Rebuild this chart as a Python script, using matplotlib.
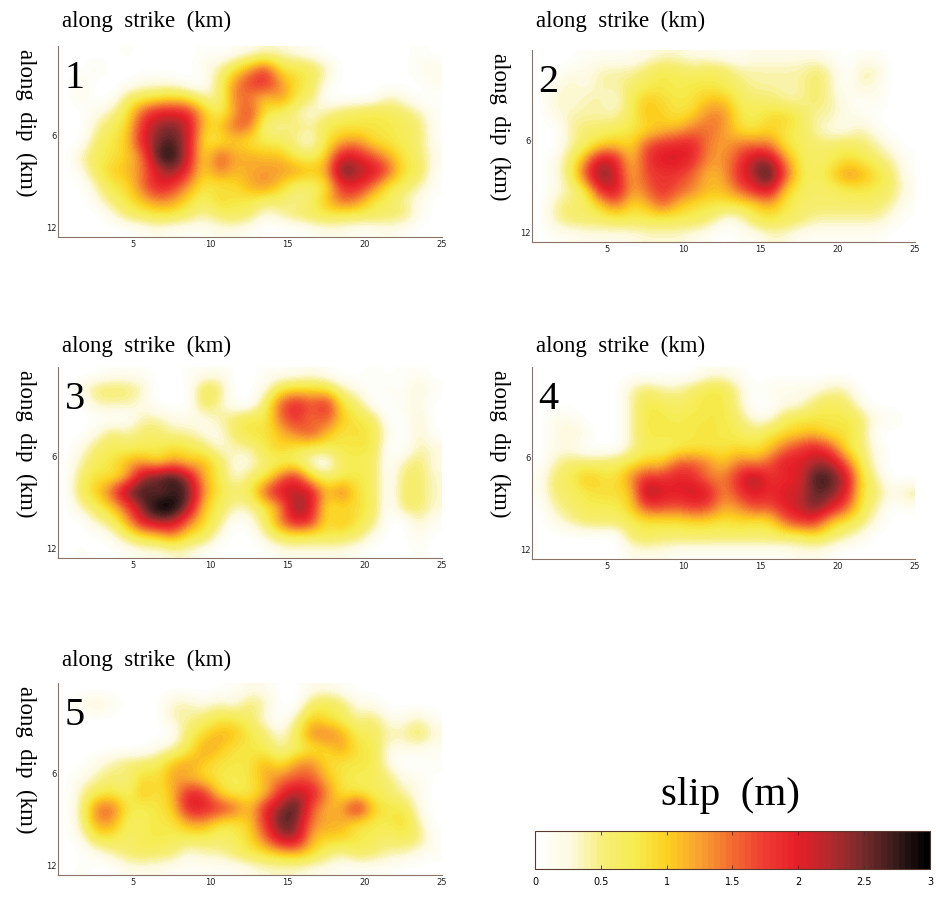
import matplotlib
matplotlib.use('Agg')
import matplotlib.pyplot as plt
import numpy as np
from matplotlib.cm import ScalarMappable
from matplotlib.colors import LinearSegmentedColormap, Normalize

# slip, in 0.1 m, one row per km of dip, one column per km of strike
slip_1 = [
    [0, 0, 0, 0, 1, 0, 0, 0, 0, 1, 0, 1, 2, 3, 3, 2, 1, 0, 0, 0, 0, 0, 0, 1, 0],
    [0, 0, 2, 0, 0, 0, 0, 0, 0, 2, 4, 8, 12, 17, 8, 8, 7, 4, 0, 0, 0, 0, 0, 2, 2],
    [0, 2, 0, 0, 0, 2, 2, 2, 0, 0, 6, 13, 18, 20, 13, 9, 7, 2, 0, 0, 0, 0, 0, 0, 2],
    [0, 2, 0, 0, 6, 7, 8, 9, 8, 4, 4, 15, 14, 10, 14, 8, 6, 0, 0, 0, 0, 4, 2, 0, 0],
    [0, 0, 2, 4, 8, 16, 20, 20, 19, 11, 6, 12, 18, 8, 7, 4, 2, 4, 6, 7, 8, 7, 6, 4, 1],
    [0, 0, 4, 7, 9, 19, 24, 25, 22, 10, 10, 16, 15, 4, 4, 6, 4, 8, 8, 8, 8, 8, 7, 6, 1],
    [0, 0, 6, 8, 10, 20, 25, 27, 21, 8, 8, 10, 8, 7, 7, 4, 2, 8, 12, 13, 9, 8, 7, 6, 1],
    [0, 4, 7, 8, 10, 14, 28, 29, 21, 8, 17, 12, 12, 11, 11, 7, 6, 10, 21, 20, 16, 12, 8, 6, 2],
    [0, 2, 7, 10, 11, 14, 21, 25, 18, 9, 15, 11, 12, 13, 13, 13, 11, 12, 28, 23, 22, 17, 8, 8, 1],
    [0, 0, 4, 8, 9, 15, 21, 18, 13, 8, 8, 9, 12, 14, 10, 6, 6, 8, 19, 20, 15, 8, 7, 4, 1],
    [0, 0, 2, 6, 8, 11, 14, 13, 9, 6, 10, 8, 8, 6, 6, 4, 6, 11, 16, 14, 8, 7, 4, 2, 0],
    [0, 0, 0, 2, 6, 7, 8, 8, 6, 4, 6, 7, 6, 2, 4, 6, 7, 8, 7, 7, 7, 6, 6, 2, 0],
    [0, 0, 0, 0, 0, 1, 2, 1, 1, 1, 2, 2, 1, 0, 0, 0, 1, 2, 2, 1, 1, 2, 1, 0, 0],
]
slip_2 = [
    [0, 0, 0, 1, 1, 1, 1, 2, 3, 3, 2, 2, 1, 1, 2, 2, 2, 2, 2, 1, 0, 1, 1, 0, 0],
    [0, 0, 2, 2, 4, 4, 4, 6, 8, 7, 6, 7, 7, 4, 4, 4, 4, 4, 6, 4, 0, 4, 4, 0, 0],
    [0, 2, 4, 2, 4, 4, 6, 7, 8, 7, 8, 8, 7, 6, 4, 4, 4, 4, 6, 4, 0, 4, 2, 0, 0],
    [0, 4, 2, 4, 4, 2, 7, 11, 9, 8, 8, 11, 11, 7, 6, 6, 4, 4, 6, 4, 2, 0, 2, 0, 0],
    [0, 2, 4, 4, 4, 4, 7, 11, 10, 8, 10, 14, 14, 8, 7, 9, 10, 7, 4, 4, 2, 2, 0, 0, 0],
    [0, 0, 4, 6, 6, 7, 8, 9, 11, 12, 15, 15, 13, 9, 8, 10, 8, 7, 4, 2, 2, 4, 2, 0, 0],
    [0, 0, 4, 6, 10, 11, 9, 17, 19, 20, 20, 14, 12, 15, 15, 15, 8, 7, 6, 6, 7, 6, 4, 2, 0],
    [0, 2, 6, 13, 23, 20, 10, 18, 21, 21, 19, 13, 13, 17, 24, 24, 14, 7, 6, 7, 9, 8, 6, 4, 1],
    [0, 2, 6, 17, 26, 21, 11, 17, 18, 18, 15, 11, 12, 19, 23, 29, 17, 8, 6, 9, 14, 12, 9, 6, 1],
    [0, 2, 4, 7, 20, 22, 12, 15, 19, 16, 14, 11, 11, 15, 19, 22, 10, 7, 6, 6, 7, 8, 7, 6, 2],
    [0, 4, 6, 6, 10, 15, 9, 11, 16, 11, 9, 8, 8, 8, 9, 12, 8, 6, 6, 6, 6, 6, 6, 4, 1],
    [0, 4, 6, 6, 6, 7, 7, 7, 7, 7, 7, 6, 2, 2, 7, 8, 7, 6, 4, 4, 4, 4, 4, 2, 0],
    [0, 1, 1, 2, 2, 2, 2, 3, 3, 3, 2, 1, 0, 1, 1, 3, 3, 1, 1, 1, 1, 1, 1, 0, 0],
]
slip_3 = [
    [0, 0, 0, 1, 1, 1, 0, 0, 1, 1, 2, 0, 0, 1, 1, 1, 2, 1, 0, 0, 1, 0, 1, 1, 0],
    [0, 2, 6, 6, 6, 4, 0, 0, 0, 8, 6, 0, 0, 2, 8, 9, 9, 8, 4, 2, 0, 2, 0, 4, 1],
    [0, 0, 4, 4, 4, 2, 0, 0, 0, 7, 4, 0, 0, 6, 16, 20, 16, 20, 8, 6, 0, 0, 2, 2, 0],
    [0, 0, 0, 0, 0, 4, 4, 2, 2, 2, 4, 6, 8, 7, 15, 19, 14, 17, 10, 8, 7, 0, 0, 4, 0],
    [0, 0, 2, 6, 4, 6, 6, 4, 4, 2, 2, 6, 9, 8, 11, 14, 17, 11, 8, 9, 8, 2, 0, 4, 0],
    [0, 2, 6, 7, 6, 7, 7, 9, 8, 6, 2, 4, 4, 8, 10, 8, 7, 7, 8, 8, 8, 0, 0, 4, 3],
    [0, 4, 7, 8, 12, 13, 9, 13, 10, 12, 7, 2, 2, 6, 6, 6, 2, 0, 7, 7, 7, 0, 4, 6, 2],
    [0, 6, 9, 8, 11, 24, 27, 29, 23, 11, 8, 2, 6, 7, 15, 20, 8, 6, 7, 8, 7, 0, 6, 6, 3],
    [0, 7, 10, 16, 26, 28, 24, 27, 27, 13, 8, 6, 7, 17, 22, 22, 22, 10, 16, 8, 7, 0, 6, 6, 3],
    [0, 4, 7, 10, 16, 25, 31, 31, 24, 10, 7, 4, 4, 8, 12, 26, 20, 8, 9, 9, 7, 0, 6, 6, 3],
    [0, 0, 4, 6, 12, 21, 24, 23, 15, 9, 6, 0, 2, 6, 15, 21, 19, 8, 12, 8, 6, 0, 0, 4, 1],
    [0, 0, 0, 2, 6, 9, 10, 14, 8, 8, 2, 0, 0, 4, 7, 8, 7, 8, 7, 6, 2, 0, 0, 2, 0],
    [0, 1, 0, 0, 1, 2, 2, 3, 3, 1, 0, 0, 0, 0, 2, 2, 2, 2, 2, 1, 0, 0, 0, 1, 0],
]
slip_4 = [
    [0, 0, 0, 0, 0, 0, 0, 0, 0, 0, 0, 2, 2, 1, 0, 0, 0, 0, 0, 0, 0, 0, 0, 0, 0],
    [0, 0, 0, 0, 0, 0, 4, 6, 4, 4, 6, 8, 8, 4, 0, 2, 2, 2, 2, 4, 4, 0, 0, 0, 0],
    [0, 0, 0, 0, 0, 0, 4, 8, 7, 6, 7, 8, 8, 4, 0, 0, 2, 2, 6, 7, 6, 2, 0, 0, 0],
    [0, 2, 2, 0, 0, 0, 4, 8, 8, 7, 8, 8, 8, 6, 2, 2, 7, 8, 8, 8, 8, 6, 2, 2, 0],
    [0, 2, 4, 2, 0, 0, 4, 8, 8, 8, 8, 8, 8, 7, 6, 8, 9, 10, 11, 8, 9, 6, 0, 0, 0],
    [0, 2, 2, 0, 0, 0, 4, 7, 6, 7, 8, 8, 8, 9, 8, 10, 15, 18, 20, 17, 8, 6, 2, 0, 0],
    [0, 4, 6, 6, 6, 7, 8, 10, 10, 16, 16, 14, 10, 15, 13, 16, 21, 20, 23, 23, 16, 7, 2, 0, 0],
    [1, 6, 7, 11, 9, 8, 14, 19, 18, 20, 19, 14, 14, 19, 25, 18, 19, 20, 28, 27, 22, 9, 4, 0, 0],
    [1, 6, 6, 8, 9, 9, 10, 25, 21, 20, 22, 21, 13, 18, 21, 19, 21, 21, 26, 25, 21, 8, 6, 2, 5],
    [0, 4, 6, 7, 7, 7, 10, 17, 17, 16, 18, 17, 12, 13, 17, 16, 20, 22, 26, 21, 16, 8, 4, 0, 1],
    [0, 2, 4, 6, 6, 6, 7, 8, 8, 8, 9, 9, 8, 9, 8, 8, 15, 18, 18, 10, 8, 6, 2, 0, 0],
    [0, 0, 0, 0, 0, 0, 6, 7, 6, 6, 6, 6, 6, 6, 6, 6, 6, 6, 8, 6, 4, 2, 0, 0, 0],
    [0, 0, 0, 0, 0, 0, 2, 2, 2, 1, 1, 1, 1, 1, 1, 1, 1, 2, 2, 1, 0, 0, 0, 0, 0],
]
slip_5 = [
    [0, 0, 0, 0, 0, 0, 0, 0, 0, 0, 0, 1, 2, 2, 0, 0, 2, 2, 1, 0, 0, 0, 0, 0, 0],
    [0, 2, 4, 2, 0, 0, 0, 4, 4, 2, 4, 2, 6, 4, 0, 0, 6, 8, 6, 2, 2, 0, 0, 0, 0],
    [0, 0, 0, 0, 0, 0, 0, 4, 4, 6, 8, 8, 6, 2, 0, 4, 11, 8, 7, 4, 6, 2, 2, 4, 1],
    [0, 0, 0, 0, 0, 0, 0, 0, 7, 9, 12, 11, 8, 6, 2, 7, 14, 15, 12, 7, 7, 4, 4, 7, 3],
    [0, 0, 0, 0, 0, 0, 2, 4, 7, 13, 11, 8, 8, 7, 4, 6, 8, 9, 13, 8, 8, 2, 2, 2, 1],
    [0, 0, 2, 4, 6, 6, 7, 11, 13, 10, 8, 8, 8, 12, 8, 13, 14, 9, 8, 8, 8, 2, 0, 0, 1],
    [0, 2, 4, 6, 4, 10, 8, 13, 11, 9, 8, 7, 8, 12, 14, 16, 16, 11, 8, 7, 7, 6, 2, 2, 0],
    [0, 4, 7, 8, 6, 11, 8, 11, 20, 19, 9, 7, 8, 10, 19, 23, 21, 14, 8, 8, 7, 6, 4, 2, 0],
    [0, 4, 15, 16, 8, 7, 8, 10, 21, 20, 19, 16, 10, 20, 24, 28, 16, 11, 12, 22, 10, 8, 8, 2, 0],
    [0, 4, 13, 13, 6, 7, 8, 8, 12, 13, 8, 8, 10, 18, 27, 25, 14, 12, 12, 8, 8, 7, 10, 4, 0],
    [0, 2, 8, 8, 6, 7, 8, 7, 7, 7, 6, 7, 9, 15, 23, 24, 11, 10, 10, 8, 7, 6, 7, 6, 1],
    [0, 0, 2, 4, 6, 7, 6, 6, 2, 4, 4, 6, 8, 9, 11, 12, 10, 6, 4, 7, 6, 4, 4, 2, 1],
    [0, 1, 0, 0, 2, 2, 2, 1, 1, 1, 1, 1, 2, 3, 3, 3, 2, 2, 1, 1, 1, 1, 0, 0, 0],
]

x_ticks = [5, 10, 15, 20, 25]
y_ticks = [6, 12]
cbar_ticks = [0, 0.5, 1, 1.5, 2, 2.5, 3]
cbar_labels = ['0', '0.5', '1', '1.5', '2', '2.5', '3']

W, H = 937, 900
SERIF = 'Liberation Serif'
EDGE = '#8a7468'

# nom, valeurs, cadre en pixels (left, top, right, bottom), ligne de base du titre
panels = [
    ('1', slip_1, (58.5, 46, 442, 237), 27),
    ('2', slip_2, (532.5, 50, 915, 242), 27),
    ('3', slip_3, (58.5, 367, 442, 558), 352),
    ('4', slip_4, (532.5, 367, 915, 559), 352),
    ('5', slip_5, (58.5, 683, 442, 875), 666),
]

cmap = LinearSegmentedColormap.from_list('slip', [
    (0.0, '#ffffff'), (0.0833, '#fdfae0'), (0.1667, '#f7ee78'), (0.25, '#f6ec4e'),
    (0.3333, '#fdd01f'), (0.4167, '#f8a030'), (0.5, '#f26c30'), (0.5833, '#ef3b33'),
    (0.6667, '#e51f28'), (0.75, '#b42a2d'), (0.8333, '#772b2c'), (0.9167, '#3a1c1c'),
    (1.0, '#000000')], N=64)
norm = Normalize(0, 3)


def px_axes(fig, left, top, right, bottom):
    return fig.add_axes([left / W, 1 - bottom / H, (right - left) / W, (bottom - top) / H])


fig = plt.figure(figsize=(W / 100, H / 100), dpi=100)

for name, slip, box, title_y in panels:
    ax = px_axes(fig, *box)
    ax.imshow(np.array(slip) / 10, cmap=cmap, norm=norm, aspect='auto',
              interpolation='bicubic', extent=(0.16, 25.05, 12.6, 0.13))
    ax.set_xlim(0.16, 25.05)
    ax.set_ylim(12.6, 0.13)
    ax.set_xticks(x_ticks)
    ax.set_yticks(y_ticks)
    ax.tick_params(length=0, labelsize=6, labelcolor='#222222')
    ax.tick_params(axis='x', pad=2.5)
    ax.tick_params(axis='y', pad=1.5)
    ax.spines['top'].set_visible(False)
    ax.spines['right'].set_visible(False)
    ax.spines['left'].set_color(EDGE)
    ax.spines['bottom'].set_color(EDGE)
    left, top, right, bottom = box
    fig.text((left + 3.5) / W, 1 - title_y / H, 'along  strike  (km)', family=SERIF,
             fontsize=16.5, va='baseline', ha='left')
    fig.text((left - 33) / W, 1 - (top + 3) / H, 'along  dip  (km)', family=SERIF,
             fontsize=16.5, rotation=270, va='top', ha='center')
    fig.text((left + 6) / W, 1 - (top + 42) / H, name, family=SERIF, fontsize=29,
             va='baseline', ha='left')

# barre de couleur
cax = px_axes(fig, 535, 831, 930, 869)
cbar = fig.colorbar(ScalarMappable(norm=norm, cmap=cmap), cax=cax, orientation='horizontal')
cbar.set_ticks(cbar_ticks, labels=cbar_labels)
cbar.ax.tick_params(direction='in', length=3, width=0.6, color='#333333', labelsize=7,
                    top=True, pad=6)
cbar.outline.set_edgecolor('#5a3a30')
cbar.outline.set_linewidth(0.8)
fig.text(730 / W, 1 - 805 / H, 'slip  (m)', family=SERIF, fontsize=29.5, ha='center',
         va='baseline')

fig.savefig('out.png', dpi=100)
